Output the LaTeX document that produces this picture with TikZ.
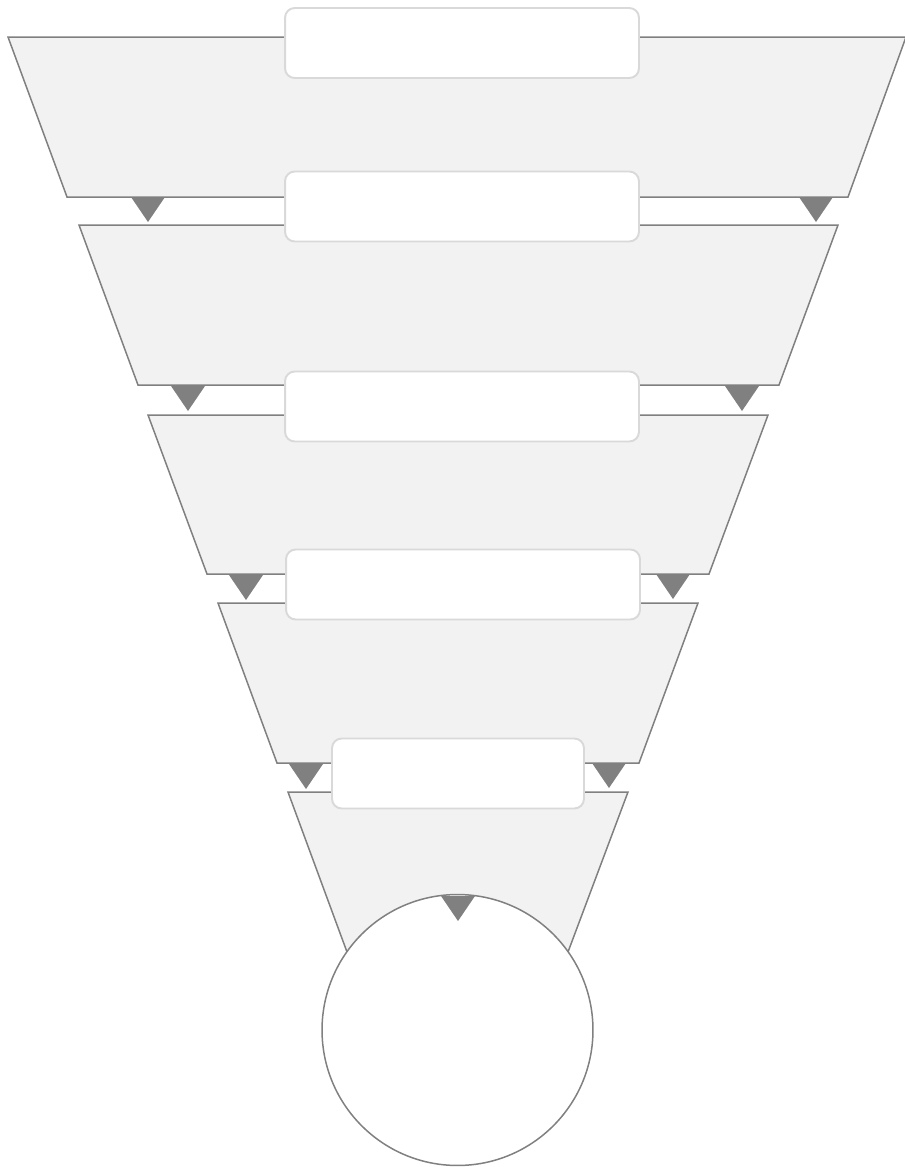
\documentclass[tikz,border=0pt]{standalone}
\usetikzlibrary{positioning}

\begin{document}
\begin{tikzpicture}[x=0.02cm, y=-0.02cm,
    stage/.style={fill=stagefill, draw=edgegray, line width=0.85pt, line join=miter},
    labelbox/.style={draw=boxgray, fill=white, line width=1.1pt, rounded corners=5.5pt,
        minimum width=7.08cm, minimum height=1.4cm, inner sep=0pt},
    marker/.style={fill=edgegray}]

    % Define colors
    \colorlet{stagefill}{black!5}
    \colorlet{edgegray}{black!50}
    \colorlet{boxgray}{black!15}

    \useasboundingbox (0,0) rectangle (905,1167);

    % 1. The funnel stages
    \filldraw[stage] (8,37) -- (906,37) -- (848,197) -- (67,197) -- cycle;
    \filldraw[stage] (79,225) -- (838,225) -- (779,385) -- (138,385) -- cycle;
    \filldraw[stage] (148,415) -- (768,415) -- (709,574) -- (207,574) -- cycle;
    \filldraw[stage] (218,603) -- (698,603) -- (639,763) -- (277,763) -- cycle;
    \filldraw[stage] (288,792) -- (628,792) -- (568,952) -- (347,952) -- cycle;

    % 2. Result circle at the bottom
    \node[circle, draw=edgegray, fill=white, line width=0.85pt, minimum size=5.42cm, inner sep=0pt]
        (result) at (457.5,1030) {};

    % 3. Flow markers between stages
    \fill[marker] (131,197) -- (165,197) -- (148,222) -- cycle;
    \fill[marker] (799,197) -- (833,197) -- (816,222) -- cycle;
    \fill[marker] (171,386) -- (205,386) -- (188,411) -- cycle;
    \fill[marker] (725,386) -- (759,386) -- (742,411) -- cycle;
    \fill[marker] (229,575) -- (263,575) -- (246,600) -- cycle;
    \fill[marker] (656,574) -- (690,574) -- (673,599) -- cycle;
    \fill[marker] (289,764) -- (323,764) -- (306,789) -- cycle;
    \fill[marker] (592,763) -- (626,763) -- (609,788) -- cycle;
    \fill[marker] (441,896) -- (475,896) -- (458,921) -- cycle;

    % 4. Stage label boxes
    \node[labelbox] (stageA) at (462,43) {};
    \node[labelbox] (stageB) at (462,206.5) {};
    \node[labelbox] (stageC) at (462,406.5) {};
    \node[labelbox] (stageD) at (463,584.5) {};
    \node[labelbox, minimum width=5.04cm] (stageE) at (458,773.5) {};

\end{tikzpicture}
\end{document}
